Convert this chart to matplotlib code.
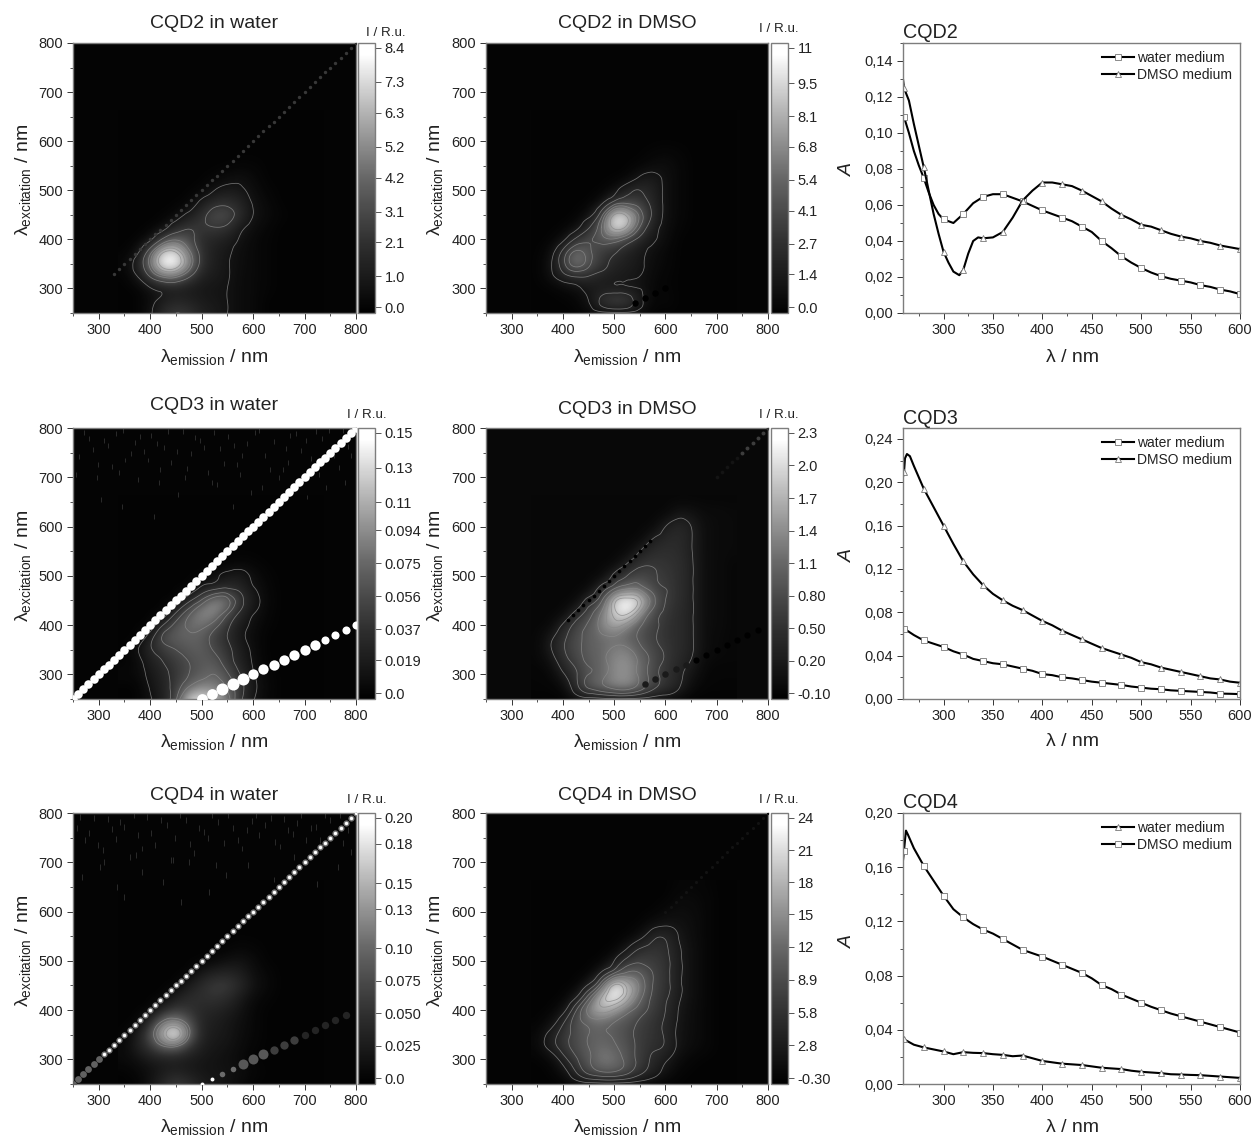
import numpy as np
import matplotlib
matplotlib.use("Agg")
import matplotlib.pyplot as plt
import matplotlib.tri as mtri
from matplotlib.colors import LinearSegmentedColormap
from matplotlib.ticker import MultipleLocator

plt.rcParams["font.family"] = ["Liberation Sans", "DejaVu Sans"]
plt.rcParams["mathtext.fontset"] = "custom"
plt.rcParams["mathtext.rm"] = "Liberation Sans"
plt.rcParams["mathtext.it"] = "Liberation Sans:italic"

W, H = 1254, 1139
FRAME = "#7d7d7d"
TEXT = "#222222"

# 发射波长 / 激发波长网格，数值为色标范围的百分比（从上到下 650 -> 250）
em_grid = [350, 375, 400, 425, 450, 475, 500, 525, 550, 575, 600, 625, 650, 675, 700, 725]
ex_grid = [650, 625, 600, 575, 550, 525, 500, 475, 450, 425, 400, 375, 350, 325, 300, 275, 250]

cqd2_water = [
    [0, 0, 0, 0, 0, 0, 0, 0, 0, 0, 0, 0, 0, 0, 0, 0],
    [0, 0, 0, 0, 0, 0, 0, 0, 0, 0, 0, 0, 0, 0, 0, 0],
    [0, 0, 0, 0, 0, 0, 0, 0, 0, 0, 0, 0, 0, 0, 0, 0],
    [0, 0, 0, 0, 0, 0, 0, 0, 0, 0, 0, 0, 0, 0, 0, 0],
    [0, 0, 0, 0, 0, 0, 0, 0, 0, 1, 1, 0, 0, 0, 0, 0],
    [0, 0, 0, 0, 0, 0, 0, 1, 4, 6, 3, 0, 0, 0, 0, 0],
    [0, 0, 0, 0, 0, 0, 1, 8, 12, 10, 5, 1, 0, 0, 0, 0],
    [0, 0, 0, 0, 0, 1, 12, 22, 24, 18, 7, 3, 0, 0, 0, 0],
    [0, 0, 0, 0, 2, 12, 24, 38, 38, 22, 8, 4, 1, 0, 0, 0],
    [0, 0, 0, 3, 18, 28, 28, 30, 26, 12, 5, 2, 0, 0, 0, 0],
    [0, 0, 5, 34, 48, 38, 22, 18, 14, 7, 3, 1, 0, 0, 0, 0],
    [0, 5, 42, 86, 88, 55, 24, 14, 10, 5, 3, 1, 0, 0, 0, 0],
    [2, 15, 56, 100, 100, 64, 24, 14, 9, 5, 3, 1, 0, 0, 0, 0],
    [0, 8, 32, 55, 56, 34, 16, 12, 9, 4, 3, 1, 0, 0, 0, 0],
    [0, 0, 7, 12, 14, 12, 10, 9, 8, 4, 3, 1, 0, 0, 0, 0],
    [0, 0, 4, 13, 18, 16, 12, 10, 8, 4, 3, 0, 0, 0, 0, 0],
    [0, 0, 6, 22, 30, 26, 16, 12, 8, 4, 3, 0, 0, 0, 0, 0],
]
cqd2_dmso = [
    [0, 0, 0, 0, 0, 0, 0, 0, 0, 0, 0, 0, 0, 0, 0, 0],
    [0, 0, 0, 0, 0, 0, 0, 0, 0, 0, 0, 0, 0, 0, 0, 0],
    [0, 0, 0, 0, 0, 0, 0, 0, 0, 0, 0, 0, 0, 0, 0, 0],
    [0, 0, 0, 0, 0, 0, 0, 0, 0, 1, 2, 1, 0, 0, 0, 0],
    [0, 0, 0, 0, 0, 0, 0, 0, 1, 4, 5, 2, 0, 0, 0, 0],
    [0, 0, 0, 0, 0, 0, 0, 1, 10, 12, 6, 2, 0, 0, 0, 0],
    [0, 0, 0, 0, 0, 0, 4, 17, 22, 16, 6, 2, 0, 0, 0, 0],
    [0, 0, 0, 0, 0, 5, 28, 35, 30, 18, 6, 2, 0, 0, 0, 0],
    [0, 0, 0, 0, 5, 32, 88, 82, 46, 20, 6, 2, 0, 0, 0, 0],
    [0, 0, 0, 4, 20, 50, 94, 82, 38, 14, 5, 1, 0, 0, 0, 0],
    [0, 0, 5, 25, 36, 44, 48, 34, 18, 10, 4, 0, 0, 0, 0, 0],
    [0, 3, 26, 52, 42, 30, 24, 16, 11, 5, 2, 0, 0, 0, 0, 0],
    [0, 6, 32, 56, 42, 27, 18, 14, 10, 4, 2, 0, 0, 0, 0, 0],
    [0, 5, 16, 24, 22, 16, 13, 11, 8, 3, 1, 0, 0, 0, 0, 0],
    [0, 0, 2, 5, 10, 12, 12, 11, 8, 2, 1, 0, 0, 0, 0, 0],
    [0, 0, 0, 1, 8, 26, 36, 32, 12, 1, 2, 0, 0, 0, 0, 0],
    [0, 0, 0, 0, 2, 4, 5, 5, 3, 0, 0, 0, 0, 0, 0, 0],
]
cqd3_water = [
    [0, 0, 0, 0, 0, 0, 0, 0, 0, 0, 0, 0, 0, 0, 0, 0],
    [0, 0, 0, 0, 0, 0, 0, 0, 0, 0, 0, 0, 0, 0, 0, 0],
    [0, 0, 0, 0, 0, 0, 0, 0, 0, 0, 0, 0, 0, 0, 0, 0],
    [0, 0, 0, 0, 0, 0, 0, 0, 0, 0, 0, 0, 0, 0, 0, 0],
    [0, 0, 0, 0, 0, 0, 0, 0, 0, 0, 0, 0, 0, 0, 0, 0],
    [0, 0, 0, 0, 0, 0, 0, 0, 0, 2, 1, 0, 0, 0, 0, 0],
    [0, 0, 0, 0, 0, 0, 0, 4, 10, 12, 5, 1, 0, 0, 0, 0],
    [0, 0, 0, 0, 0, 0, 10, 18, 22, 18, 8, 2, 0, 0, 0, 0],
    [0, 0, 0, 0, 0, 18, 40, 60, 55, 28, 12, 3, 0, 0, 0, 0],
    [0, 0, 0, 0, 22, 46, 62, 62, 42, 20, 8, 2, 0, 0, 0, 0],
    [0, 0, 0, 22, 42, 52, 54, 44, 26, 12, 5, 1, 0, 0, 0, 0],
    [0, 0, 15, 40, 46, 48, 46, 32, 22, 10, 4, 0, 0, 0, 0, 0],
    [0, 6, 20, 30, 38, 44, 46, 36, 26, 14, 5, 0, 0, 0, 0, 0],
    [0, 3, 14, 22, 30, 38, 44, 44, 30, 16, 6, 0, 0, 0, 0, 0],
    [2, 3, 10, 18, 28, 38, 46, 50, 40, 22, 8, 2, 0, 0, 0, 0],
    [0, 0, 8, 16, 30, 50, 60, 58, 48, 28, 10, 3, 0, 0, 0, 0],
    [0, 0, 6, 14, 36, 82, 92, 78, 56, 26, 8, 2, 0, 0, 0, 0],
]
cqd3_dmso = [
    [2, 2, 2, 2, 2, 2, 2, 2, 2, 2, 2, 2, 2, 2, 2, 2],
    [2, 2, 2, 2, 2, 2, 2, 2, 2, 2, 2, 10, 8, 4, 4, 3],
    [2, 2, 2, 2, 2, 2, 2, 2, 2, 2, 14, 20, 14, 5, 4, 3],
    [2, 2, 2, 2, 2, 2, 2, 2, 2, 14, 20, 22, 15, 5, 4, 3],
    [2, 2, 2, 2, 2, 2, 2, 2, 14, 22, 24, 22, 15, 5, 4, 3],
    [2, 2, 2, 2, 2, 2, 2, 14, 26, 28, 26, 24, 16, 5, 4, 2],
    [2, 2, 2, 2, 2, 2, 18, 30, 36, 32, 28, 24, 16, 5, 4, 2],
    [2, 2, 2, 2, 2, 20, 40, 52, 50, 36, 30, 24, 16, 5, 4, 2],
    [2, 2, 2, 2, 20, 40, 84, 100, 84, 48, 30, 24, 16, 5, 4, 2],
    [2, 2, 2, 18, 36, 56, 86, 96, 66, 38, 28, 22, 16, 5, 4, 2],
    [2, 2, 16, 34, 44, 60, 72, 62, 44, 34, 26, 22, 16, 5, 4, 2],
    [2, 10, 26, 38, 46, 52, 54, 48, 40, 32, 26, 22, 16, 5, 3, 2],
    [2, 12, 28, 38, 46, 50, 58, 58, 46, 36, 28, 22, 16, 5, 3, 2],
    [2, 5, 22, 34, 44, 50, 62, 64, 52, 38, 28, 20, 13, 3, 2, 2],
    [1, 2, 12, 28, 42, 50, 62, 64, 52, 36, 26, 18, 8, 2, 1, 1],
    [1, 1, 3, 24, 44, 52, 60, 62, 50, 34, 26, 16, 4, 1, 1, 1],
    [0, 0, 0, 5, 8, 10, 12, 12, 10, 7, 4, 2, 0, 0, 0, 0],
]
cqd4_water = [
    [0, 0, 0, 0, 0, 0, 0, 0, 0, 0, 0, 0, 0, 0, 0, 0],
    [0, 0, 0, 0, 0, 0, 0, 0, 0, 0, 0, 0, 0, 0, 0, 0],
    [0, 0, 0, 0, 0, 0, 0, 0, 0, 0, 0, 0, 0, 0, 0, 0],
    [0, 0, 0, 0, 0, 0, 0, 0, 0, 0, 0, 0, 0, 0, 0, 0],
    [0, 0, 0, 0, 0, 0, 0, 0, 0, 0, 0, 0, 0, 0, 0, 0],
    [0, 0, 0, 0, 0, 0, 0, 0, 0, 2, 1, 0, 0, 0, 0, 0],
    [0, 0, 0, 0, 0, 0, 0, 2, 6, 8, 4, 0, 0, 0, 0, 0],
    [0, 0, 0, 0, 0, 0, 10, 16, 18, 14, 6, 2, 0, 0, 0, 0],
    [0, 0, 0, 0, 0, 12, 22, 30, 30, 20, 8, 3, 0, 0, 0, 0],
    [0, 0, 0, 0, 14, 22, 24, 26, 22, 12, 4, 1, 0, 0, 0, 0],
    [0, 0, 0, 20, 30, 26, 20, 18, 14, 8, 2, 0, 0, 0, 0, 0],
    [0, 0, 24, 56, 66, 42, 18, 14, 10, 6, 2, 0, 0, 0, 0, 0],
    [0, 12, 40, 80, 100, 54, 18, 12, 10, 5, 2, 0, 0, 0, 0, 0],
    [3, 14, 28, 46, 48, 28, 14, 10, 8, 4, 1, 0, 0, 0, 0, 0],
    [3, 6, 12, 14, 14, 12, 10, 8, 6, 3, 0, 0, 0, 0, 0, 0],
    [0, 2, 6, 12, 16, 12, 9, 8, 8, 5, 2, 0, 0, 0, 0, 0],
    [0, 0, 8, 20, 30, 24, 14, 10, 7, 3, 0, 0, 0, 0, 0, 0],
]
cqd4_dmso = [
    [0, 0, 0, 0, 0, 0, 0, 0, 0, 0, 0, 1, 2, 1, 0, 0],
    [0, 0, 0, 0, 0, 0, 0, 0, 0, 0, 0, 3, 3, 2, 0, 0],
    [0, 0, 0, 0, 0, 0, 0, 0, 0, 0, 3, 5, 4, 2, 0, 0],
    [0, 0, 0, 0, 0, 0, 0, 0, 0, 5, 8, 7, 5, 2, 0, 0],
    [0, 0, 0, 0, 0, 0, 0, 0, 6, 18, 20, 10, 5, 2, 0, 0],
    [0, 0, 0, 0, 0, 0, 0, 10, 22, 26, 24, 12, 6, 2, 0, 0],
    [0, 0, 0, 0, 0, 0, 10, 26, 32, 30, 26, 13, 6, 2, 0, 0],
    [0, 0, 0, 0, 0, 12, 34, 48, 46, 34, 26, 13, 6, 2, 0, 0],
    [0, 0, 0, 0, 12, 46, 94, 78, 56, 34, 26, 13, 6, 2, 0, 0],
    [0, 0, 0, 10, 42, 82, 98, 76, 50, 32, 24, 12, 6, 2, 0, 0],
    [0, 0, 6, 32, 62, 76, 68, 52, 40, 30, 22, 10, 5, 2, 0, 0],
    [0, 4, 20, 40, 50, 52, 46, 40, 32, 26, 20, 9, 5, 2, 0, 0],
    [2, 14, 28, 38, 46, 48, 44, 38, 30, 26, 20, 8, 5, 2, 0, 0],
    [2, 14, 28, 38, 46, 52, 48, 40, 30, 24, 20, 8, 4, 2, 0, 0],
    [0, 2, 16, 32, 44, 56, 54, 42, 30, 20, 12, 4, 1, 0, 0, 0],
    [0, 0, 5, 22, 38, 46, 46, 38, 26, 16, 7, 1, 0, 0, 0, 0],
    [0, 0, 0, 3, 5, 6, 6, 5, 3, 1, 0, 0, 0, 0, 0, 0],
]

titles = ["CQD2 in water", "CQD2 in DMSO", "CQD3 in water", "CQD3 in DMSO", "CQD4 in water", "CQD4 in DMSO"]
grids = [cqd2_water, cqd2_dmso, cqd3_water, cqd3_dmso, cqd4_water, cqd4_dmso]
cbar_labels = [
    ["0.0", "1.0", "2.1", "3.1", "4.2", "5.2", "6.3", "7.3", "8.4"],
    ["0.0", "1.4", "2.7", "4.1", "5.4", "6.8", "8.1", "9.5", "11"],
    ["0.0", "0.019", "0.037", "0.056", "0.075", "0.094", "0.11", "0.13", "0.15"],
    ["-0.10", "0.20", "0.50", "0.80", "1.1", "1.4", "1.7", "2.0", "2.3"],
    ["0.0", "0.025", "0.050", "0.075", "0.10", "0.13", "0.15", "0.18", "0.20"],
    ["-0.30", "2.8", "5.8", "8.9", "12", "15", "18", "21", "24"],
]
contour_levels = [
    [8, 30, 50, 60, 70, 80, 90],
    [8, 22, 38, 50, 62, 75, 88],
    [7, 22, 38, 50],
    [14, 30, 42, 55, 68, 80, 92],
    [50, 60, 70, 80, 90],
    [10, 22, 34, 46, 58, 70, 82, 92],
]

# 散射线：(级次, 激发起点, 激发终点, 灰度, 点大小)
scatter_lines = [
    [(1, 330, 800, 0.22, 6)],
    [(2, 270, 300, 0.0, 22)],
    [(1, 250, 800, 1.0, 38), (2, 250, 260, 1.0, 60), (2, 270, 290, 1.0, 75), (2, 300, 360, 1.0, 55), (2, 370, 400, 1.0, 34)],
    [(1, 410, 570, 0.0, 7), (1, 700, 740, 0.08, 7), (1, 750, 800, 0.24, 8),
     (2, 280, 325, 0.1, 22), (2, 330, 395, 0.0, 20)],
    [(1, 250, 300, 0.38, 24), (1, 310, 800, 0.45, 20), (1, 310, 800, 1.0, 6),
     (2, 250, 260, 1.0, 8), (2, 270, 280, 0.42, 16), (2, 290, 310, 0.34, 52),
     (2, 320, 340, 0.24, 36), (2, 350, 395, 0.14, 28)],
    [(1, 600, 800, 0.07, 5)],
]

# 顶部噪声条纹（发射, 激发）
noise_cqd3_em = [262, 281, 296, 318, 334, 352, 371, 388, 402, 427, 441, 463, 479, 497, 512, 536, 551, 569, 588, 604,
                 623, 641, 658, 672, 694, 712, 733, 748, 766, 784, 305, 345, 418, 455, 530, 596, 650, 705, 741, 778,
                 271, 289, 311, 326, 347, 363, 381, 395, 414, 434, 452, 471, 488, 505, 524, 543, 562, 579, 612, 632,
                 664, 683, 703, 722, 757, 775, 255, 298, 340, 376, 420, 468, 520, 575, 618, 668, 728, 790, 408, 560]
noise_cqd3_ex = [742, 778, 700, 765, 788, 735, 770, 752, 785, 760, 730, 792, 748, 775, 710, 758, 782, 725, 768, 790,
                 745, 772, 715, 785, 755, 738, 778, 795, 720, 762, 655, 640, 690, 665, 685, 670, 700, 660, 680, 690,
                 790, 756, 775, 722, 795, 748, 782, 735, 768, 792, 752, 718, 780, 760, 790, 728, 765, 745, 795, 715,
                 758, 788, 775, 792, 745, 795, 705, 725, 710, 695, 715, 700, 690, 705, 680, 730, 705, 745, 620, 640]
noise_cqd4_em = [258, 274, 290, 309, 326, 341, 360, 376, 393, 410, 432, 448, 470, 486, 505, 521, 544, 560, 579, 597,
                 612, 634, 652, 668, 686, 703, 722, 740, 758, 775, 268, 302, 336, 384, 424, 476, 515, 548, 590, 640,
                 680, 725, 765, 790, 350, 460, 264, 282, 298, 318, 333, 350, 368, 385, 401, 421, 440, 458, 478, 495,
                 513, 532, 552, 570, 588, 605, 623, 643, 660, 677, 694, 712, 731, 750, 768, 784, 310, 372, 445, 528]
noise_cqd4_ex = [770, 745, 790, 725, 768, 782, 710, 755, 792, 735, 775, 750, 786, 718, 762, 795, 740, 770, 728, 784,
                 756, 790, 732, 766, 780, 745, 772, 795, 760, 740, 670, 690, 650, 680, 660, 700, 640, 675, 695, 665,
                 710, 655, 690, 720, 630, 620, 792, 760, 735, 788, 748, 772, 795, 728, 760, 785, 705, 795, 738, 770,
                 750, 782, 795, 745, 765, 795, 775, 742, 788, 758, 795, 770, 745, 785, 795, 765, 700, 715, 705, 695]

# 吸收光谱
marker_wl = list(range(260, 601, 20))
tail_wl = [360, 370, 380, 390, 400, 410, 420, 430, 440, 450, 460, 470, 480, 490, 500, 510, 520, 530, 540, 550, 560, 570, 580, 590, 600]

cqd2_water_wl = [259, 260, 265, 270, 275, 280, 285, 290, 295, 300, 310, 320, 330, 340, 350] + tail_wl
cqd2_water_a = [0.107, 0.109, 0.100, 0.090, 0.082, 0.075, 0.067, 0.060, 0.055, 0.052, 0.050, 0.055, 0.061, 0.0645, 0.066,
                0.066, 0.064, 0.062, 0.0595, 0.057, 0.055, 0.053, 0.051, 0.048, 0.045, 0.040, 0.036, 0.0315, 0.028, 0.025,
                0.0225, 0.0205, 0.019, 0.018, 0.017, 0.0155, 0.0145, 0.013, 0.012, 0.0105]
cqd2_dmso_wl = [259, 260, 265, 270, 275, 280, 285, 290, 295, 300, 305, 310, 316, 320, 325, 330, 335, 340, 350] + tail_wl
cqd2_dmso_a = [0.130, 0.125, 0.118, 0.105, 0.093, 0.081, 0.068, 0.055, 0.044, 0.034, 0.028, 0.023, 0.021, 0.024, 0.033,
               0.040, 0.042, 0.0415, 0.042, 0.045, 0.053, 0.0625, 0.068, 0.0725, 0.0725, 0.0715, 0.0705, 0.068, 0.065,
               0.062, 0.058, 0.0545, 0.052, 0.049, 0.048, 0.046, 0.044, 0.0425, 0.0415, 0.040, 0.039, 0.0375, 0.0365, 0.0355]
cqd3_water_wl = [260, 270, 280, 290, 300, 310, 320, 330, 340, 350] + tail_wl
cqd3_water_a = [0.065, 0.059, 0.054, 0.051, 0.048, 0.044, 0.041, 0.037, 0.035, 0.033, 0.032, 0.030, 0.028, 0.026, 0.023,
                0.022, 0.020, 0.019, 0.0175, 0.016, 0.015, 0.014, 0.013, 0.0115, 0.0105, 0.0095, 0.009, 0.008, 0.0075,
                0.007, 0.0065, 0.006, 0.005, 0.0048, 0.0045]
cqd3_dmso_wl = [259, 260, 261, 263, 266, 270, 280, 290, 300, 310, 320, 330, 340, 350] + tail_wl
cqd3_dmso_a = [0.205, 0.209, 0.222, 0.226, 0.224, 0.215, 0.194, 0.177, 0.160, 0.143, 0.127, 0.115, 0.105, 0.097, 0.091,
               0.086, 0.082, 0.077, 0.072, 0.068, 0.063, 0.059, 0.055, 0.051, 0.047, 0.044, 0.041, 0.038, 0.034, 0.032,
               0.029, 0.027, 0.025, 0.023, 0.021, 0.019, 0.018, 0.016, 0.015]
cqd4_water_wl = [260, 270, 280, 290, 300, 310, 320, 330, 340, 350] + tail_wl
cqd4_water_a = [0.033, 0.029, 0.027, 0.0255, 0.024, 0.022, 0.0235, 0.023, 0.0228, 0.022, 0.0215, 0.0205, 0.021, 0.019, 0.017,
                0.016, 0.015, 0.0145, 0.014, 0.013, 0.012, 0.0115, 0.011, 0.0098, 0.009, 0.0085, 0.008, 0.0072, 0.007,
                0.0067, 0.0065, 0.006, 0.0055, 0.005, 0.0045]
cqd4_dmso_wl = [259, 260, 261, 262, 264, 270, 280, 290, 300, 310, 320, 330, 340, 350] + tail_wl
cqd4_dmso_a = [0.165, 0.172, 0.180, 0.187, 0.184, 0.174, 0.161, 0.150, 0.139, 0.129, 0.123, 0.118, 0.114, 0.111, 0.107, 0.103,
               0.099, 0.0965, 0.094, 0.091, 0.088, 0.085, 0.082, 0.078, 0.073, 0.070, 0.066, 0.063, 0.060, 0.057, 0.0545,
               0.052, 0.050, 0.048, 0.046, 0.044, 0.042, 0.040, 0.038]

a_ticks = [
    ["0,00", "0,02", "0,04", "0,06", "0,08", "0,10", "0,12", "0,14"],
    ["0,00", "0,04", "0,08", "0,12", "0,16", "0,20", "0,24"],
    ["0,00", "0,04", "0,08", "0,12", "0,16", "0,20"],
]
a_top = [0.15, 0.25, 0.20]
a_minor = [0.01, 0.02, 0.02]
cqd_names = ["CQD2", "CQD3", "CQD4"]

gray_map = LinearSegmentedColormap.from_list("em_gray", [
    (0.0, (0, 0, 0)), (0.13, (0.10, 0.10, 0.10)), (0.25, (0.18, 0.18, 0.18)), (0.37, (0.28, 0.28, 0.28)),
    (0.50, (0.40, 0.40, 0.40)), (0.63, (0.56, 0.56, 0.56)), (0.75, (0.71, 0.71, 0.71)), (0.87, (0.87, 0.87, 0.87)),
    (0.96, (1, 1, 1)), (1.0, (1, 1, 1))])

fig = plt.figure(figsize=(W / 100, H / 100), dpi=100)


def add_axes_px(x0, y0, x1, y1):
    return fig.add_axes([x0 / W, 1 - y1 / H, (x1 - x0) / W, (y1 - y0) / H])


def text_px(x, y, s, **kw):
    kw.setdefault("color", TEXT)
    return fig.text(x / W, 1 - y / H, s, ha=kw.pop("ha", "center"), va=kw.pop("va", "center"), **kw)


def style_axes(ax):
    for sp in ax.spines.values():
        sp.set_color(FRAME)
        sp.set_linewidth(1.0)
    ax.tick_params(which="major", direction="out", length=4, width=0.7, color="#333333",
                   labelsize=10.5, labelcolor=TEXT, pad=3)
    ax.tick_params(which="minor", direction="out", length=2, width=0.6, color="#333333")


# 行：每行的 y 像素范围
row_y = [(43, 313), (428, 699), (813, 1084)]
col_map = [(73, 356, 358, 375), (486, 768, 771, 788)]
title_y = [[24, 24], [406, 410], [795, 795]]
unit_pos = [[(386, 33), (779, 29)], [(367, 415), (779, 415)], [(367, 800), (779, 800)]]
xlabel_y = [357, 742, 1127]
ylabel_x = [23, 435]

for i in range(6):
    row, col = i // 2, i % 2
    y0, y1 = row_y[row]
    x0, x1, cx0, cx1 = col_map[col]
    ax = add_axes_px(x0, y0, x1, y1)
    cax = add_axes_px(cx0, y0, cx1, y1)

    ticks = [float(t) for t in cbar_labels[i]]
    z_low, z_high = ticks[0], ticks[-1]
    z = z_low + np.array(grids[i], dtype=float)[::-1] / 100 * (z_high - z_low)
    vmin = z_low - 0.022 * (z_high - z_low)
    vmax = z_high + 0.019 * (z_high - z_low)
    step = em_grid[1] - em_grid[0]
    ex = ex_grid[::-1]
    ax.set_facecolor(gray_map((z[-1, 0] - vmin) / (vmax - vmin)))
    im = ax.imshow(z, origin="lower", cmap=gray_map, vmin=vmin, vmax=vmax, interpolation="bicubic", aspect="auto",
                   extent=[em_grid[0] - step / 2, em_grid[-1] + step / 2, ex[0] - step / 2, ex[-1] + step / 2])
    # 用 matplotlib 的三角网细分画平滑等高线
    em_mesh, ex_mesh = np.meshgrid(em_grid, ex)
    tri_grid = mtri.Triangulation(em_mesh.ravel(), ex_mesh.ravel())
    fine_tri, fine_z = mtri.UniformTriRefiner(tri_grid).refine_field(z.ravel(), subdiv=3)
    levels = z_low + np.array(contour_levels[i]) / 100 * (z_high - z_low)
    ax.tricontour(fine_tri, fine_z, levels=levels, colors="#8a8a8a", linewidths=0.55, alpha=0.8)

    if i == 2:
        ax.vlines(noise_cqd3_em, np.array(noise_cqd3_ex) - 5, np.array(noise_cqd3_ex) + 5, color="#3a3a3a", lw=0.5)
    if i == 4:
        ax.vlines(noise_cqd4_em, np.array(noise_cqd4_ex) - 6, np.array(noise_cqd4_ex) + 6, color="#3a3a3a", lw=0.5)

    for order, ex_a, ex_b, gray, size in scatter_lines[i]:
        line_ex = np.arange(ex_a, ex_b + 1, 10)
        ax.scatter(line_ex * order, line_ex, s=size, color=str(gray), linewidths=0, zorder=3)

    ax.set_xlim(250, 800)
    ax.set_ylim(250, 800)
    ax.set_xticks([300, 400, 500, 600, 700, 800])
    ax.set_yticks([300, 400, 500, 600, 700, 800])
    ax.xaxis.set_minor_locator(MultipleLocator(50))
    ax.yaxis.set_minor_locator(MultipleLocator(50))
    style_axes(ax)

    cb = fig.colorbar(im, cax=cax, ticks=ticks)
    cb.set_ticklabels(cbar_labels[i])
    cb.ax.minorticks_off()
    cb.outline.set_edgecolor(FRAME)
    cb.outline.set_linewidth(1.0)
    cb.ax.tick_params(length=4, width=0.7, color="#555555", labelsize=10.5, labelcolor=TEXT, pad=3)

    text_px((x0 + x1) / 2, title_y[row][col], titles[i], fontsize=14)
    text_px(unit_pos[row][col][0], unit_pos[row][col][1], "I / R.u.", fontsize=9.6)
    text_px((x0 + x1) / 2, xlabel_y[row], r"$\mathregular{λ_{emission}}$ / nm", fontsize=14)
    text_px(ylabel_x[col], (y0 + y1) / 2 + 2, r"$\mathregular{λ_{excitation}}$ / nm", fontsize=14, rotation=90)

# 右列吸收光谱
curves = [
    [(cqd2_water_wl, cqd2_water_a, "s", "water medium"), (cqd2_dmso_wl, cqd2_dmso_a, "^", "DMSO medium")],
    [(cqd3_water_wl, cqd3_water_a, "s", "water medium"), (cqd3_dmso_wl, cqd3_dmso_a, "^", "DMSO medium")],
    [(cqd4_water_wl, cqd4_water_a, "^", "water medium"), (cqd4_dmso_wl, cqd4_dmso_a, "s", "DMSO medium")],
]
a_label_y = [170, 556, 941]

for row in range(3):
    y0, y1 = row_y[row]
    ax = add_axes_px(903, y0, 1240, y1)
    for wl, a, marker, label in curves[row]:
        wl = np.array(wl)
        ax.plot(wl, a, color="black", lw=1.5, marker=marker, ms=4.8, mfc="white", mec="#777777", mew=0.6,
                markevery=list(np.where(np.isin(wl, marker_wl))[0]), label=label)
    ax.set_xlim(259, 600)
    ax.set_ylim(0, a_top[row])
    ax.set_xticks([300, 350, 400, 450, 500, 550, 600])
    ax.xaxis.set_minor_locator(MultipleLocator(25))
    ax.set_yticks([float(t.replace(",", ".")) for t in a_ticks[row]], a_ticks[row])
    ax.yaxis.set_minor_locator(MultipleLocator(a_minor[row]))
    style_axes(ax)
    ax.legend(loc="upper right", frameon=False, fontsize=10, handlelength=2.3, handletextpad=0.25,
              labelspacing=0.22, borderaxespad=0.2, borderpad=0.35, labelcolor=TEXT)
    text_px(903, y0 - 10, cqd_names[row], fontsize=14.2, ha="left")
    text_px(1072, xlabel_y[row], "λ / nm", fontsize=14)
    text_px(847, a_label_y[row], "A", fontsize=14, rotation=90, style="italic")

fig.savefig("out.png", dpi=100)
